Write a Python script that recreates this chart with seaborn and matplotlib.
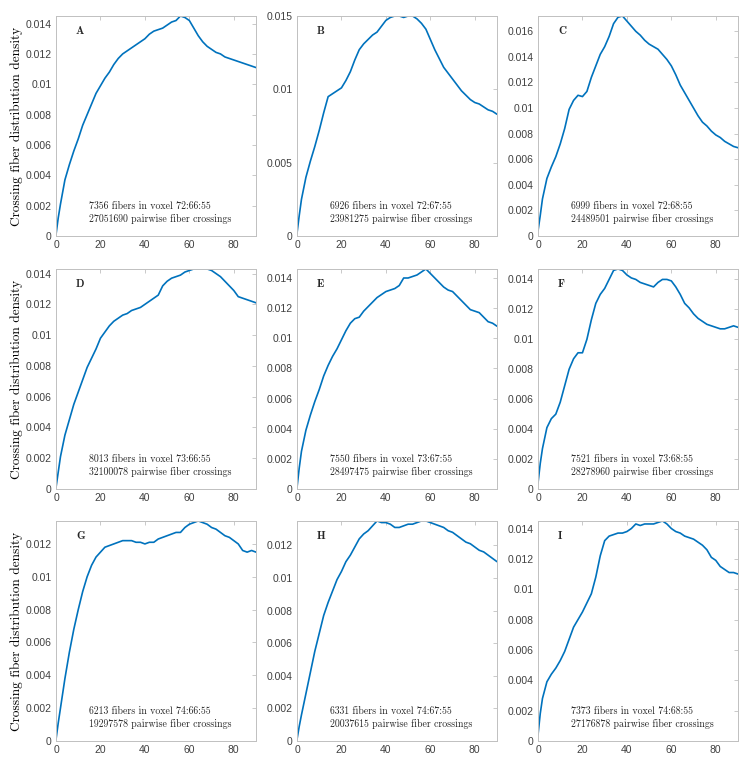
import matplotlib
matplotlib.use("Agg")
import matplotlib.pyplot as plt
import seaborn as sns
import pandas as pd
from matplotlib.ticker import MultipleLocator, FuncFormatter

# crossing angle (degrees)
angles = [0, 1] + list(range(2, 91, 2))

density_A = [0.0001, 0.0012, 0.0021, 0.0037, 0.0047, 0.0056, 0.0064, 0.0073, 0.0080, 0.0087,
             0.0094, 0.0099, 0.0104, 0.0108, 0.0113, 0.0117, 0.0120, 0.0122, 0.0124, 0.0126,
             0.0128, 0.0130, 0.0133, 0.0135, 0.0136, 0.0137, 0.0139, 0.0141, 0.0142, 0.0145,
             0.0144, 0.0142, 0.0137, 0.0132, 0.0128, 0.0125, 0.0123, 0.0121, 0.0120, 0.0118,
             0.0117, 0.0116, 0.0115, 0.0114, 0.0113, 0.0112, 0.0111]
density_B = [0.0002, 0.0014, 0.0025, 0.0040, 0.0051, 0.0061, 0.0072, 0.0084, 0.0095, 0.0097,
             0.0099, 0.0101, 0.0106, 0.0112, 0.0120, 0.0127, 0.0131, 0.0134, 0.0137, 0.0139,
             0.0143, 0.0147, 0.0149, 0.0150, 0.0150, 0.0149, 0.0150, 0.0150, 0.0148, 0.0145,
             0.0141, 0.0134, 0.0127, 0.0121, 0.0115, 0.0111, 0.0107, 0.0103, 0.0099, 0.0096,
             0.0093, 0.0091, 0.0090, 0.0088, 0.0086, 0.0085, 0.0083]
density_C = [0.0004, 0.0016, 0.0029, 0.0045, 0.0054, 0.0062, 0.0072, 0.0084, 0.0099, 0.0106,
             0.0110, 0.0109, 0.0113, 0.0124, 0.0133, 0.0142, 0.0148, 0.0156, 0.0166, 0.0171,
             0.0172, 0.0168, 0.0164, 0.0160, 0.0157, 0.0153, 0.0150, 0.0148, 0.0146, 0.0142,
             0.0138, 0.0133, 0.0126, 0.0118, 0.0112, 0.0106, 0.0100, 0.0094, 0.0089, 0.0086,
             0.0082, 0.0079, 0.0077, 0.0074, 0.0072, 0.0070, 0.0069]
density_D = [0.0001, 0.0011, 0.0021, 0.0035, 0.0045, 0.0055, 0.0063, 0.0071, 0.0079, 0.0085,
             0.0091, 0.0098, 0.0102, 0.0106, 0.0109, 0.0111, 0.0113, 0.0114, 0.0116, 0.0117,
             0.0118, 0.0120, 0.0122, 0.0124, 0.0126, 0.0132, 0.0135, 0.0137, 0.0138, 0.0139,
             0.0141, 0.0142, 0.0143, 0.0143, 0.0143, 0.0143, 0.0142, 0.0140, 0.0138, 0.0135,
             0.0132, 0.0129, 0.0125, 0.0124, 0.0123, 0.0122, 0.0121]
density_E = [0.0001, 0.0014, 0.0025, 0.0039, 0.0049, 0.0058, 0.0066, 0.0075, 0.0082, 0.0088,
             0.0093, 0.0099, 0.0105, 0.0110, 0.0113, 0.0114, 0.0118, 0.0121, 0.0124, 0.0127,
             0.0129, 0.0131, 0.0132, 0.0133, 0.0135, 0.0140, 0.0140, 0.0141, 0.0142, 0.0144,
             0.0146, 0.0143, 0.0140, 0.0137, 0.0134, 0.0132, 0.0131, 0.0128, 0.0125, 0.0122,
             0.0119, 0.0118, 0.0117, 0.0114, 0.0111, 0.0110, 0.0108]
density_F = [0.0004, 0.0017, 0.0027, 0.0041, 0.0047, 0.0050, 0.0058, 0.0069, 0.0080, 0.0087,
             0.0091, 0.0091, 0.0100, 0.0113, 0.0124, 0.0130, 0.0134, 0.0140, 0.0146, 0.0147,
             0.0146, 0.0143, 0.0141, 0.0140, 0.0138, 0.0137, 0.0136, 0.0135, 0.0138, 0.0140,
             0.0140, 0.0139, 0.0135, 0.0130, 0.0124, 0.0121, 0.0117, 0.0114, 0.0112, 0.0110,
             0.0109, 0.0108, 0.0107, 0.0107, 0.0108, 0.0109, 0.0108]
density_G = [0.0001, 0.0011, 0.0020, 0.0038, 0.0054, 0.0068, 0.0080, 0.0091, 0.0100, 0.0107,
             0.0112, 0.0115, 0.0118, 0.0119, 0.0120, 0.0121, 0.0122, 0.0122, 0.0122, 0.0121,
             0.0121, 0.0120, 0.0121, 0.0121, 0.0123, 0.0124, 0.0125, 0.0126, 0.0127, 0.0127,
             0.0130, 0.0132, 0.0133, 0.0134, 0.0133, 0.0132, 0.0130, 0.0129, 0.0127, 0.0125,
             0.0124, 0.0122, 0.0120, 0.0116, 0.0115, 0.0116, 0.0115]
density_H = [0.0001, 0.0009, 0.0016, 0.0029, 0.0042, 0.0055, 0.0066, 0.0077, 0.0085, 0.0092,
             0.0099, 0.0104, 0.0110, 0.0114, 0.0119, 0.0124, 0.0127, 0.0129, 0.0132, 0.0135,
             0.0134, 0.0134, 0.0133, 0.0131, 0.0131, 0.0132, 0.0133, 0.0133, 0.0134, 0.0135,
             0.0135, 0.0134, 0.0133, 0.0132, 0.0131, 0.0129, 0.0128, 0.0126, 0.0124, 0.0122,
             0.0121, 0.0119, 0.0117, 0.0116, 0.0114, 0.0112, 0.0110]
density_I = [0.0004, 0.0018, 0.0028, 0.0039, 0.0044, 0.0048, 0.0053, 0.0059, 0.0067, 0.0075,
             0.0080, 0.0085, 0.0091, 0.0097, 0.0108, 0.0122, 0.0132, 0.0135, 0.0136, 0.0137,
             0.0137, 0.0138, 0.0140, 0.0143, 0.0142, 0.0143, 0.0143, 0.0143, 0.0144, 0.0145,
             0.0143, 0.0140, 0.0138, 0.0137, 0.0135, 0.0134, 0.0133, 0.0131, 0.0129, 0.0126,
             0.0121, 0.0119, 0.0115, 0.0113, 0.0111, 0.0111, 0.0110]

panel_labels = ["A", "B", "C", "D", "E", "F", "G", "H", "I"]
fiber_counts = [7356, 6926, 6999, 8013, 7550, 7521, 6213, 6331, 7373]
voxels = ["72:66:55", "72:67:55", "72:68:55", "73:66:55", "73:67:55",
          "73:68:55", "74:66:55", "74:67:55", "74:68:55"]
crossings = [27051690, 23981275, 24489501, 32100078, 28497475,
             28278960, 19297578, 20037615, 27176878]
ytick_steps = [0.002, 0.005, 0.002, 0.002, 0.002, 0.002, 0.002, 0.002, 0.002]

densities = [density_A, density_B, density_C, density_D, density_E,
             density_F, density_G, density_H, density_I]

sns.set_style("white")
plt.rcParams["font.family"] = ["Liberation Sans", "DejaVu Sans"]

line_color = "#0072BD"
frame_color = "#c0c0c0"
label_color = "#404040"

fig = plt.figure(figsize=(7.51, 7.68), dpi=100)

col_left = [0.0746, 0.3955, 0.7164]
row_bottom = [0.6927, 0.3633, 0.0352]
ax_w, ax_h = 0.2663, 0.2865

for i, vals in enumerate(densities):
    r, c = divmod(i, 3)
    ax = fig.add_axes([col_left[c], row_bottom[r], ax_w, ax_h])
    df = pd.DataFrame({"angle": angles, "density": vals})
    sns.lineplot(data=df, x="angle", y="density", ax=ax, color=line_color,
                 linewidth=1.2)
    ax.set_xlim(0, 90)
    ax.set_ylim(0, max(vals))
    ax.xaxis.set_major_locator(MultipleLocator(20))
    ax.yaxis.set_major_locator(MultipleLocator(ytick_steps[i]))
    ax.yaxis.set_major_formatter(FuncFormatter(lambda v, p: "{:g}".format(round(v, 4))))
    ax.tick_params(direction="in", length=3, width=0.6, top=True, right=True,
                   color=frame_color, labelsize=7.5, labelcolor=label_color, pad=3)
    for s in ax.spines.values():
        s.set_color(frame_color)
        s.set_linewidth(0.7)
    ax.set_xlabel("")
    if c == 0:
        ax.set_ylabel("Crossing fiber distribution density", family="cmr10",
                      fontsize=9.6, color="black", labelpad=2)
    else:
        ax.set_ylabel("")
    ax.text(0.1, 0.93, panel_labels[i], transform=ax.transAxes, family="cmb10",
            fontsize=8, va="center", ha="left")
    ax.text(0.165, 0.136, f"{fiber_counts[i]} fibers in voxel {voxels[i]}",
            transform=ax.transAxes, family="cmr10", fontsize=7.1, va="center")
    ax.text(0.165, 0.077, f"{crossings[i]} pairwise fiber crossings",
            transform=ax.transAxes, family="cmr10", fontsize=7.1, va="center")

fig.savefig("out.png", dpi=100)
